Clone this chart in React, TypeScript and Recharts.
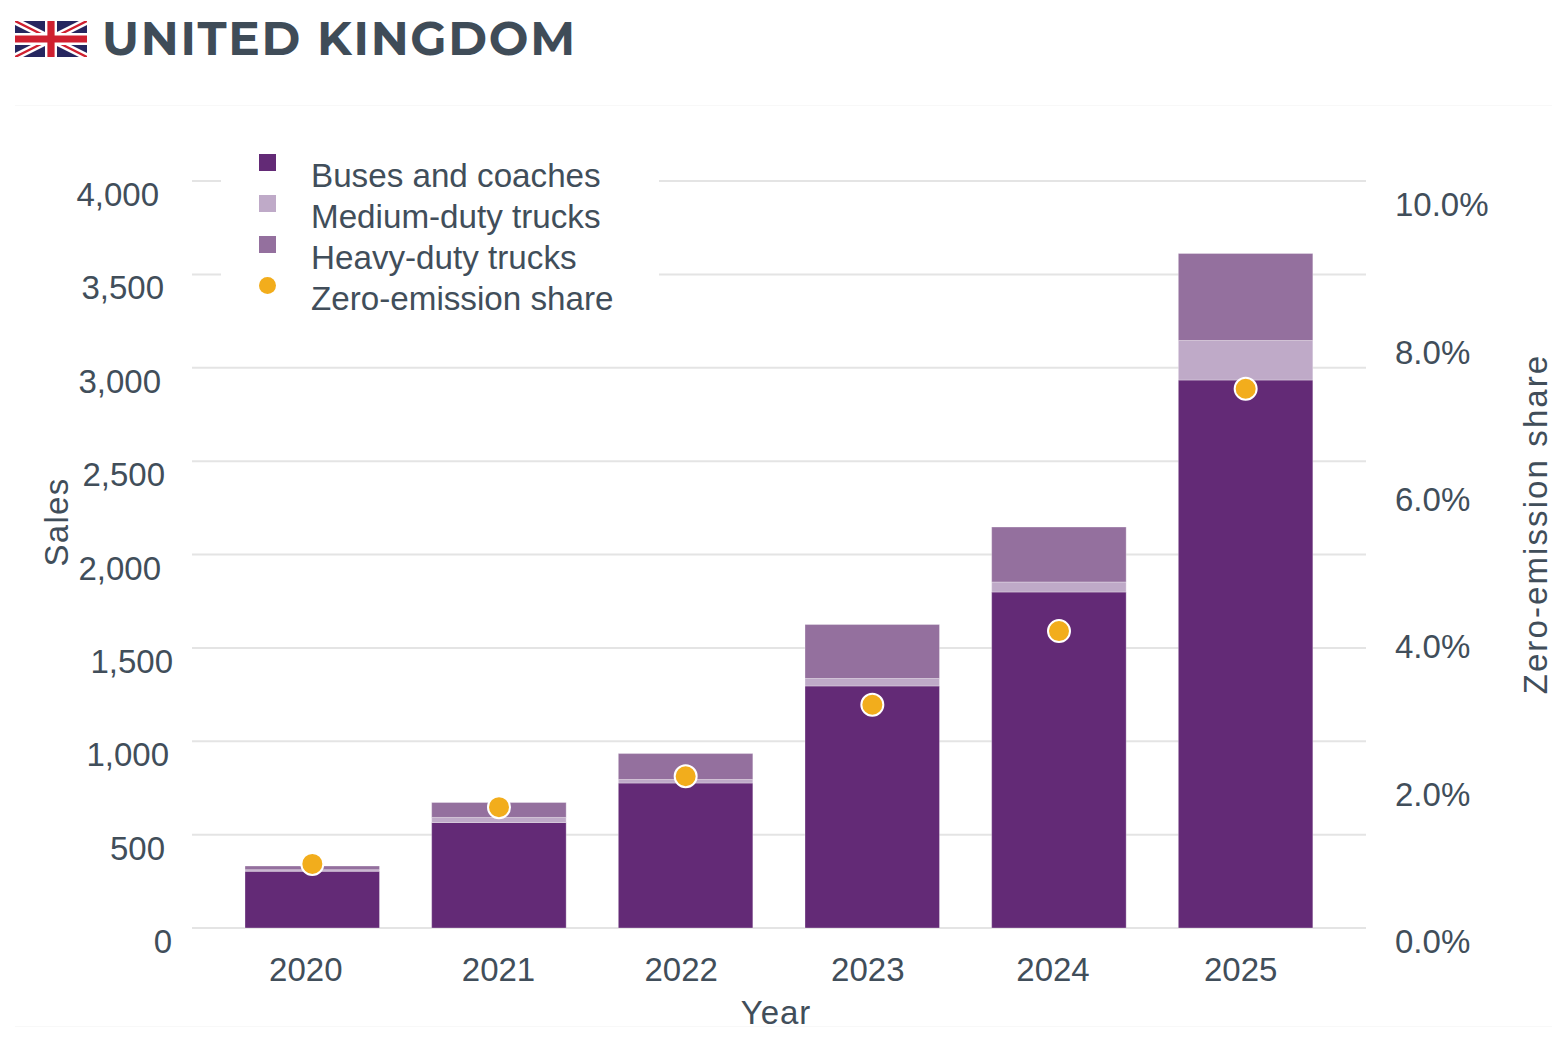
import React from 'react';
import { ComposedChart, Bar, Line, XAxis, YAxis, CartesianGrid, Legend } from 'recharts';

const years = ['2020', '2021', '2022', '2023', '2024', '2025'];
const buses = [304, 565, 776, 1296, 1799, 2934];
const medium = [8, 27, 19, 40, 54, 212];
const heavy = [20, 80, 139, 289, 294, 466];
const share = [0.87, 1.64, 2.06, 3.03, 4.03, 7.32];
const salesTicks = [0, 500, 1000, 1500, 2000, 2500, 3000, 3500, 4000];
const shareTicks = [0, 2, 4, 6, 8, 10];

const rows = years.map((year, i) => ({
  year,
  buses: buses[i],
  medium: medium[i],
  heavy: heavy[i],
  share: share[i],
}));

const INK = '#414e5a';
const ORANGE = '#f2ad1c';
const FONT = '"Liberation Sans", Arial, sans-serif';
const TICK_SIZE = 33;

const salesOffset: Record<number, number> = {
  4000: -25, 3500: -20, 3000: -23, 2500: -19, 2000: -23, 1500: -11, 1000: -15, 500: -19, 0: -12,
};
const yearOffset: Record<string, number> = {
  '2020': -6.5, '2021': -0.5, '2022': -4.5, '2023': -4.5, '2024': -6, '2025': -5,
};

const SalesTick = ({ x, y, payload }: any) => (
  <text x={x + salesOffset[payload.value]} y={y + 25} textAnchor="end" fill={INK} fontSize={TICK_SIZE} fontFamily={FONT}>
    {payload.value.toLocaleString('en-US')}
  </text>
);
const ShareTick = ({ x, y, payload }: any) => (
  <text x={x + 21} y={y + 25} textAnchor="start" fill={INK} fontSize={TICK_SIZE} fontFamily={FONT}>
    {payload.value.toFixed(1)}%
  </text>
);
const YearTick = ({ x, y, payload }: any) => (
  <text x={x + yearOffset[payload.value]} y={981} textAnchor="middle" fill={INK} fontSize={TICK_SIZE} fontFamily={FONT}>
    {payload.value}
  </text>
);

const LegendBox = ({ payload }: any) => (
  <div style={{ position: 'relative', width: 438, height: 170, background: '#fff', fontFamily: FONT, fontSize: 33.2, color: INK }}>
    {(payload || []).map((entry: any, i: number) => (
      <React.Fragment key={entry.value}>
        <span
          style={{
            position: 'absolute',
            left: 38,
            top: 4 + i * 41,
            width: 17,
            height: 17,
            background: entry.dataKey === 'share' ? ORANGE : entry.color,
            borderRadius: entry.dataKey === 'share' ? '50%' : 0,
          }}
        />
        <span style={{ position: 'absolute', left: 90, top: 7 + i * 41, lineHeight: '38px', whiteSpace: 'nowrap' }}>{entry.value}</span>
      </React.Fragment>
    ))}
  </div>
);

const Flag = () => (
  <svg width={72} height={36} viewBox="0 0 60 30" style={{ position: 'absolute', left: 15, top: 21 }}>
    <rect width={60} height={30} fill="#26265f" />
    <path d="M0 0L60 30M60 0L0 30" stroke="#fff" strokeWidth={6} />
    <path d="M0 0L60 30M60 0L0 30" stroke="#cf2030" strokeWidth={2} />
    <path d="M30 0V30M0 15H60" stroke="#fff" strokeWidth={10} />
    <path d="M30 0V30M0 15H60" stroke="#cf2030" strokeWidth={6} />
  </svg>
);

const axisLabel = (value: string, x: number, y: number, angle: number, spacing = 0) => ({
  content: () => (
    <text
      x={x}
      y={y}
      transform={angle ? `rotate(${angle} ${x} ${y})` : undefined}
      textAnchor="middle"
      dominantBaseline="central"
      fill={INK}
      fontSize={TICK_SIZE}
      fontFamily={FONT}
      letterSpacing={spacing}
    >
      {value}
    </text>
  ),
});

export default function App() {
  return (
    <div style={{ position: 'absolute', left: 0, top: 0, width: 1566, height: 1037, background: '#fff', overflow: 'hidden' }}>
      <Flag />
      <div
        style={{
          position: 'absolute',
          left: 102,
          top: 10,
          fontFamily: 'Montserrat, Inter, sans-serif',
          fontWeight: 700,
          fontSize: 47,
          letterSpacing: 1.7,
          lineHeight: '58px',
          color: '#3f4c58',
          whiteSpace: 'nowrap',
        }}
      >
        UNITED KINGDOM
      </div>
      <div style={{ position: 'absolute', left: 15, top: 105, width: 1537, height: 1, background: '#f8f8f8' }} />
      <div style={{ position: 'absolute', left: 15, top: 1026, width: 1537, height: 1, background: '#f8f8f8' }} />
      <ComposedChart
        width={1566}
        height={1037}
        data={rows}
        margin={{ top: 181, right: 100, bottom: 59, left: 92 }}
        barSize={134.5}
        style={{ position: 'absolute', left: 0, top: 0 }}
      >
        <CartesianGrid yAxisId="sales" vertical={false} stroke="#e4e4e4" strokeWidth={2} />
        <XAxis
          dataKey="year"
          height={50}
          padding={{ left: 27, right: 27 }}
          axisLine={false}
          tickLine={false}
          tick={YearTick}
          interval={0}
          label={axisLabel('Year', 776, 1012, 0, 1)}
        />
        <YAxis
          yAxisId="sales"
          width={100}
          domain={[0, 4000]}
          ticks={salesTicks}
          axisLine={false}
          tickLine={false}
          tick={SalesTick}
          interval={0}
          label={axisLabel('Sales', 56, 522, -90, 1.3)}
        />
        <YAxis
          yAxisId="share"
          orientation="right"
          width={100}
          domain={[0, 10.14]}
          ticks={shareTicks}
          axisLine={false}
          tickLine={false}
          tick={ShareTick}
          interval={0}
          allowDataOverflow
          label={axisLabel('Zero-emission share', 1535, 524, -90, 2.1)}
        />
        <Bar yAxisId="sales" dataKey="buses" name="Buses and coaches" stackId="a" fill="#632a76" stroke="#fff" strokeOpacity={0.3} isAnimationActive={false} />
        <Bar yAxisId="sales" dataKey="medium" name="Medium-duty trucks" stackId="a" fill="#bfaac8" stroke="#fff" strokeOpacity={0.3} isAnimationActive={false} />
        <Bar yAxisId="sales" dataKey="heavy" name="Heavy-duty trucks" stackId="a" fill="#94709e" stroke="#fff" strokeOpacity={0.3} isAnimationActive={false} />
        <Line
          yAxisId="share"
          dataKey="share"
          name="Zero-emission share"
          stroke="none"
          legendType="circle"
          dot={{ r: 11, fill: ORANGE, stroke: '#fff', strokeWidth: 2 }}
          isAnimationActive={false}
        />
        <Legend
          layout="vertical"
          align="center"
          verticalAlign="middle"
          itemSorter={null}
          content={LegendBox}
          wrapperStyle={{ position: 'absolute', left: 221, top: 150, width: 438, height: 170, margin: 0 }}
        />
      </ComposedChart>
    </div>
  );
}
